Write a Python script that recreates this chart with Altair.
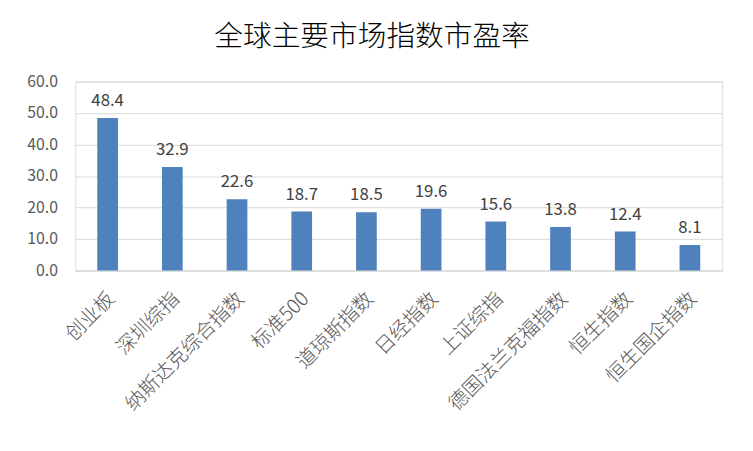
import altair as alt
import pandas as pd

categories = ["创业板", "深圳综指", "纳斯达克综合指数", "标准500", "道琼斯指数",
              "日经指数", "上证综指", "德国法兰克福指数", "恒生指数", "恒生国企指数"]
pe_values = [48.4, 32.9, 22.6, 18.7, 18.5, 19.6, 15.6, 13.8, 12.4, 8.1]
y_ticks = [0, 10, 20, 30, 40, 50, 60]

df = pd.DataFrame({"指数": categories, "市盈率": pe_values})

FONT = "Noto Sans CJK SC"

base = alt.Chart(df).encode(
    x=alt.X("指数:N", sort=None, title=None,
            scale=alt.Scale(paddingInner=0.68, paddingOuter=0.34),
            axis=alt.Axis(labelAngle=-45, labelAlign="right", labelBaseline="middle",
                          labelFontSize=20, labelColor="#595959", labelFont=FONT,
                          labelFontWeight=300, labelOffset=4,
                          labelPadding=25, ticks=False, domainColor="#D9D9D9",
                          domainWidth=1, grid=False, labelLimit=300)),
    y=alt.Y("市盈率:Q", title=None,
            scale=alt.Scale(domain=[0, 60], nice=False),
            axis=alt.Axis(values=y_ticks, format=".1f", ticks=False, domain=False,
                          labelFontSize=16, labelColor="#595959", labelFont=FONT,
                          labelPadding=18, gridColor="#D9D9D9", gridWidth=1)),
)

bars = base.mark_bar(color="#4F81BD")
labels = base.mark_text(baseline="alphabetic", dy=-12, fontSize=17, color="#404040",
                        font=FONT).encode(text=alt.Text("市盈率:Q", format=".1f"))

chart = alt.layer(bars, labels).properties(
    width=654, height=191,
    padding={"left": 68, "top": 72, "right": 23, "bottom": 172},
    autosize=alt.AutoSizeParams(type="none"),
    title=alt.TitleParams("全球主要市场指数市盈率", fontSize=29, font=FONT,
                          fontWeight=300, color="#000000", anchor="middle",
                          dx=-27, offset=22),
).configure_view(stroke=None).configure(background="white")

chart.save("out.html", embed_options={"renderer": "svg", "actions": False})
